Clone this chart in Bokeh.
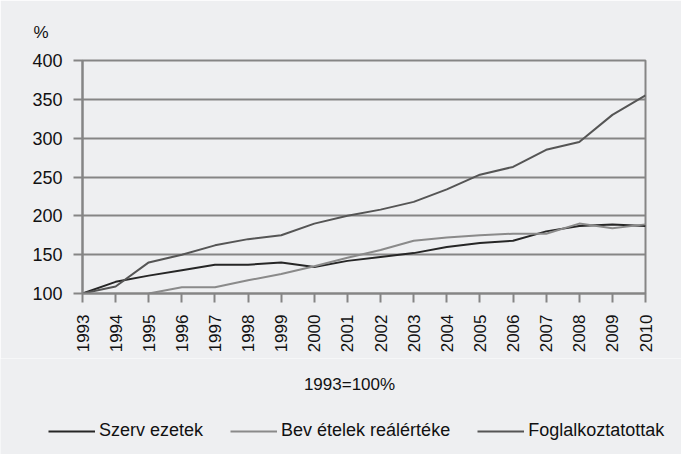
import math
from bokeh.plotting import figure
from bokeh.layouts import column
from bokeh.models import Range1d, FixedTicker, Legend, LegendItem, Label, ColumnDataSource
from bokeh.embed import file_html
from bokeh.resources import INLINE

years = list(range(1993, 2011))
szervezetek = [100, 115, 123, 130, 137, 137, 140, 134, 142, 147, 152, 160, 165, 168, 180, 187, 189, 187]
bevetelek = [math.nan, math.nan, 100, 108, 108, 117, 125, 135, 146, 156, 168, 172, 175, 177, 177, 190, 184, 189]
foglalkoztatottak = [100, 109, 140, 150, 162, 170, 175, 190, 200, 208, 218, 234, 253, 263, 285, 295, 330, 355]
y_ticks = [100, 150, 200, 250, 300, 350, 400]

names = ["Szerv ezetek", "Bev ételek reálértéke", "Foglalkoztatottak"]
colors = ["#262626", "#8a8a8a", "#555555"]

FONT = "Liberation Sans"
BG = "#eeeff1"
GRID = "#858585"
TXT = "#111111"

p = figure(width=681, height=358, output_backend="svg", toolbar_location=None,
           x_range=Range1d(1993, 2010), y_range=Range1d(100, 400),
           min_border_left=82, min_border_right=36, min_border_top=60, min_border_bottom=65)
p.frame_align = False
p.background_fill_color = BG
p.border_fill_color = BG
p.outline_line_color = GRID
p.outline_line_width = 2

p.title.text = "%"
p.title.align = "left"
p.title.offset = -49
p.title.standoff = 37
p.title.text_font = FONT
p.title.text_font_size = "17px"
p.title.text_font_style = "normal"
p.title.text_color = TXT

p.xgrid.grid_line_color = None
p.ygrid.grid_line_color = GRID
p.ygrid.grid_line_width = 2
p.ygrid.ticker = FixedTicker(ticks=y_ticks)

p.xaxis.ticker = FixedTicker(ticks=years)
p.yaxis.ticker = FixedTicker(ticks=y_ticks)
p.xaxis.major_label_orientation = math.pi / 2
for ax in (p.xaxis, p.yaxis):
    ax.axis_line_color = GRID
    ax.axis_line_width = 2
    ax.major_tick_line_color = GRID
    ax.major_tick_line_width = 2
    ax.major_tick_in = 0
    ax.major_tick_out = 9
    ax.minor_tick_line_color = None
    ax.major_label_text_font = FONT
    ax.major_label_text_font_size = "17px"
    ax.major_label_text_color = TXT
p.xaxis.major_label_standoff = 12
p.yaxis.major_label_standoff = 11
p.yaxis.major_label_text_font_size = "18px"

src = ColumnDataSource(dict(year=years, s=szervezetek, b=bevetelek, f=foglalkoztatottak))
p.line("year", "s", source=src, line_color=colors[0], line_width=2)
p.line("year", "b", source=src, line_color=colors[1], line_width=2)
p.line("year", "f", source=src, line_color=colors[2], line_width=2)

# note + legend strip below the chart
lf = figure(width=681, height=96, output_backend="svg", toolbar_location=None,
            x_range=Range1d(0, 1), y_range=Range1d(0, 1),
            x_axis_type=None, y_axis_type=None,
            min_border_left=0, min_border_right=0, min_border_top=0, min_border_bottom=0)
lf.frame_align = False
lf.background_fill_color = BG
lf.border_fill_color = BG
lf.outline_line_color = None
lf.grid.visible = False
swatches = [lf.line([-2, -1], [-2, -1], line_color=c, line_width=2) for c in colors]

lf.add_layout(Label(x=349, y=70, x_units="screen", y_units="screen", text="1993=100%",
                    text_font=FONT, text_font_size="17px", text_color=TXT,
                    text_align="center", text_baseline="middle"))

lg = Legend(items=[LegendItem(label=n, renderers=[r]) for n, r in zip(names, swatches)],
            location=(48, 13), orientation="horizontal", padding=0, margin=0, spacing=27,
            glyph_width=47, glyph_height=20, label_height=20, label_standoff=4,
            border_line_color=None, background_fill_alpha=0,
            label_text_font=FONT, label_text_font_size="18px", label_text_color=TXT)
lf.add_layout(lg, "center")

layout = column(p, lf, spacing=0)
open("out.html", "w").write(file_html(layout, INLINE))
